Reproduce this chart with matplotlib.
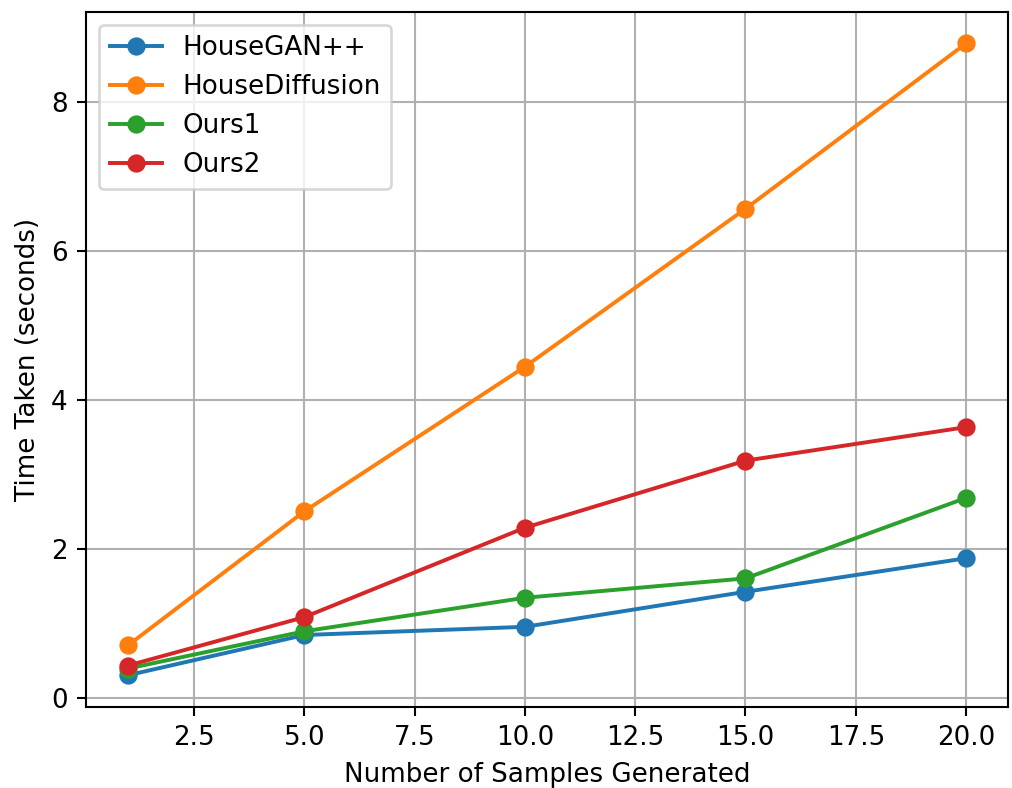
import matplotlib
matplotlib.use("Agg")
import matplotlib.pyplot as plt

samples = [1, 5, 10, 15, 20]
housegan = [0.31, 0.85, 0.96, 1.43, 1.88]
housediffusion = [0.71, 2.51, 4.45, 6.57, 8.79]
ours1 = [0.40, 0.90, 1.35, 1.61, 2.69]
ours2 = [0.44, 1.09, 2.29, 3.19, 3.64]

DPI = 188


def main() -> None:
    fig, ax = plt.subplots(figsize=(1012 / DPI, 788 / DPI), dpi=DPI)

    ax.plot(samples, housegan, marker="o", label="HouseGAN++")
    ax.plot(samples, housediffusion, marker="o", label="HouseDiffusion")
    ax.plot(samples, ours1, marker="o", label="Ours1")
    ax.plot(samples, ours2, marker="o", label="Ours2")

    ax.set_xlabel("Number of Samples Generated")
    ax.set_ylabel("Time Taken (seconds)")
    ax.legend(loc="upper left")
    ax.grid(True)

    fig.subplots_adjust(left=0.085, right=0.996, top=0.985, bottom=0.103)
    fig.savefig("out.png", dpi=DPI)
    plt.close(fig)


if __name__ == "__main__":
    main()
